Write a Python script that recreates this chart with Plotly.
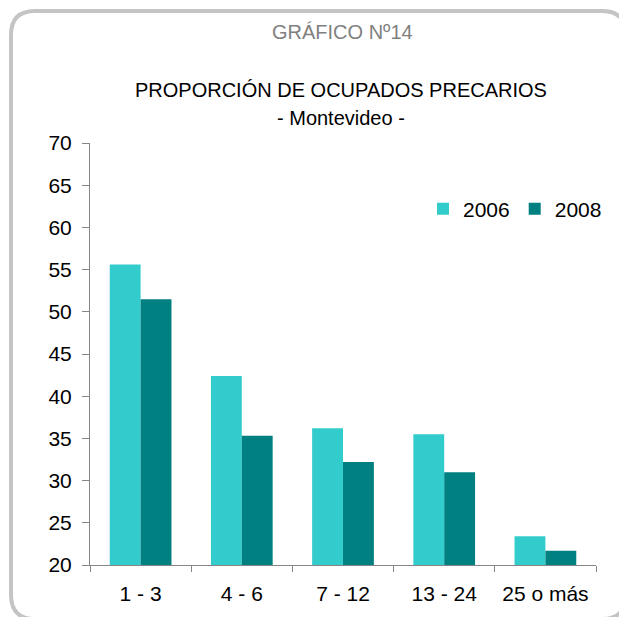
import plotly.graph_objects as go

categories = ["1 - 3", "4 - 6", "7 - 12", "13 - 24", "25 o más"]
series_names = ["2006", "2008"]
values_2006 = [55.6, 42.4, 36.2, 35.5, 23.4]
values_2008 = [51.5, 35.3, 32.2, 31.0, 21.7]
y_ticks = [20, 25, 30, 35, 40, 45, 50, 55, 60, 65, 70]

W, H = 619, 617
L, R, T, B = 90, 23, 143, 52
PW, PH = W - L - R, H - T - B

def px(x):
    return (x - L) / PW

def py(y):
    return (H - B - y) / PH

FONT = "Arial, Liberation Sans, sans-serif"

fig = go.Figure()
fig.add_trace(go.Bar(x=categories, y=values_2006, name=series_names[0],
                     marker=dict(color="#33CCCC", line=dict(width=0))))
fig.add_trace(go.Bar(x=categories, y=values_2008, name=series_names[1],
                     marker=dict(color="#008080", line=dict(width=0))))

# rounded frame (right and bottom edges run just past the canvas)
x0, y0, x1, y1, r = 11, 11, 626, 619, 24
path = (f"M {px(x0 + r)},{py(y0)} L {px(x1 - r)},{py(y0)} "
        f"Q {px(x1)},{py(y0)} {px(x1)},{py(y0 + r)} "
        f"L {px(x1)},{py(y1 - r)} Q {px(x1)},{py(y1)} {px(x1 - r)},{py(y1)} "
        f"L {px(x0 + r)},{py(y1)} Q {px(x0)},{py(y1)} {px(x0)},{py(y1 - r)} "
        f"L {px(x0)},{py(y0 + r)} Q {px(x0)},{py(y0)} {px(x0 + r)},{py(y0)} Z")
fig.add_shape(type="path", path=path, xref="paper", yref="paper",
              line=dict(color="#C4C4C4", width=4), layer="below")

fig.add_annotation(text="GRÁFICO Nº14", x=px(342), y=py(32), xref="paper", yref="paper",
                   showarrow=False, font=dict(family=FONT, size=20, color="#808080"),
                   xanchor="center", yanchor="middle")
fig.add_annotation(text="PROPORCIÓN DE OCUPADOS PRECARIOS", x=px(341), y=py(90),
                   xref="paper", yref="paper", showarrow=False,
                   font=dict(family=FONT, size=20, color="#000000"),
                   xanchor="center", yanchor="middle")
fig.add_annotation(text="- Montevideo -", x=px(341), y=py(118), xref="paper", yref="paper",
                   showarrow=False, font=dict(family=FONT, size=20, color="#000000"),
                   xanchor="center", yanchor="middle")

fig.update_layout(
    width=W, height=H,
    margin=dict(l=L, r=R, t=T, b=B, pad=0),
    paper_bgcolor="white", plot_bgcolor="white",
    barmode="group", bargap=0.39, bargroupgap=0,
    font=dict(family=FONT, size=21, color="#000000"),
    showlegend=True,
    legend=dict(orientation="h", x=px(423), y=py(209), xanchor="left", yanchor="middle",
                xref="paper", yref="paper",
                font=dict(family=FONT, size=21, color="#000000"),
                bgcolor="rgba(0,0,0,0)", borderwidth=0, itemclick=False),
)
fig.update_xaxes(type="category", showgrid=False, showline=True, linecolor="#868686",
                 linewidth=1, ticks="outside", tickson="boundaries", ticklen=6,
                 tickcolor="#868686", tickfont=dict(family=FONT, size=21, color="#000000"),
                 ticklabelstandoff=10, zeroline=False, fixedrange=True)
fig.update_yaxes(range=[20, 70], tickvals=y_ticks, showgrid=False, showline=True,
                 linecolor="#868686", linewidth=1, ticks="outside", ticklen=7,
                 tickcolor="#868686", tickfont=dict(family=FONT, size=21, color="#000000"),
                 ticklabelstandoff=6, zeroline=False, fixedrange=True)

fig.write_html("out.html", config={"displayModeBar": False},
               post_script="document.body.style.margin='0px';")
